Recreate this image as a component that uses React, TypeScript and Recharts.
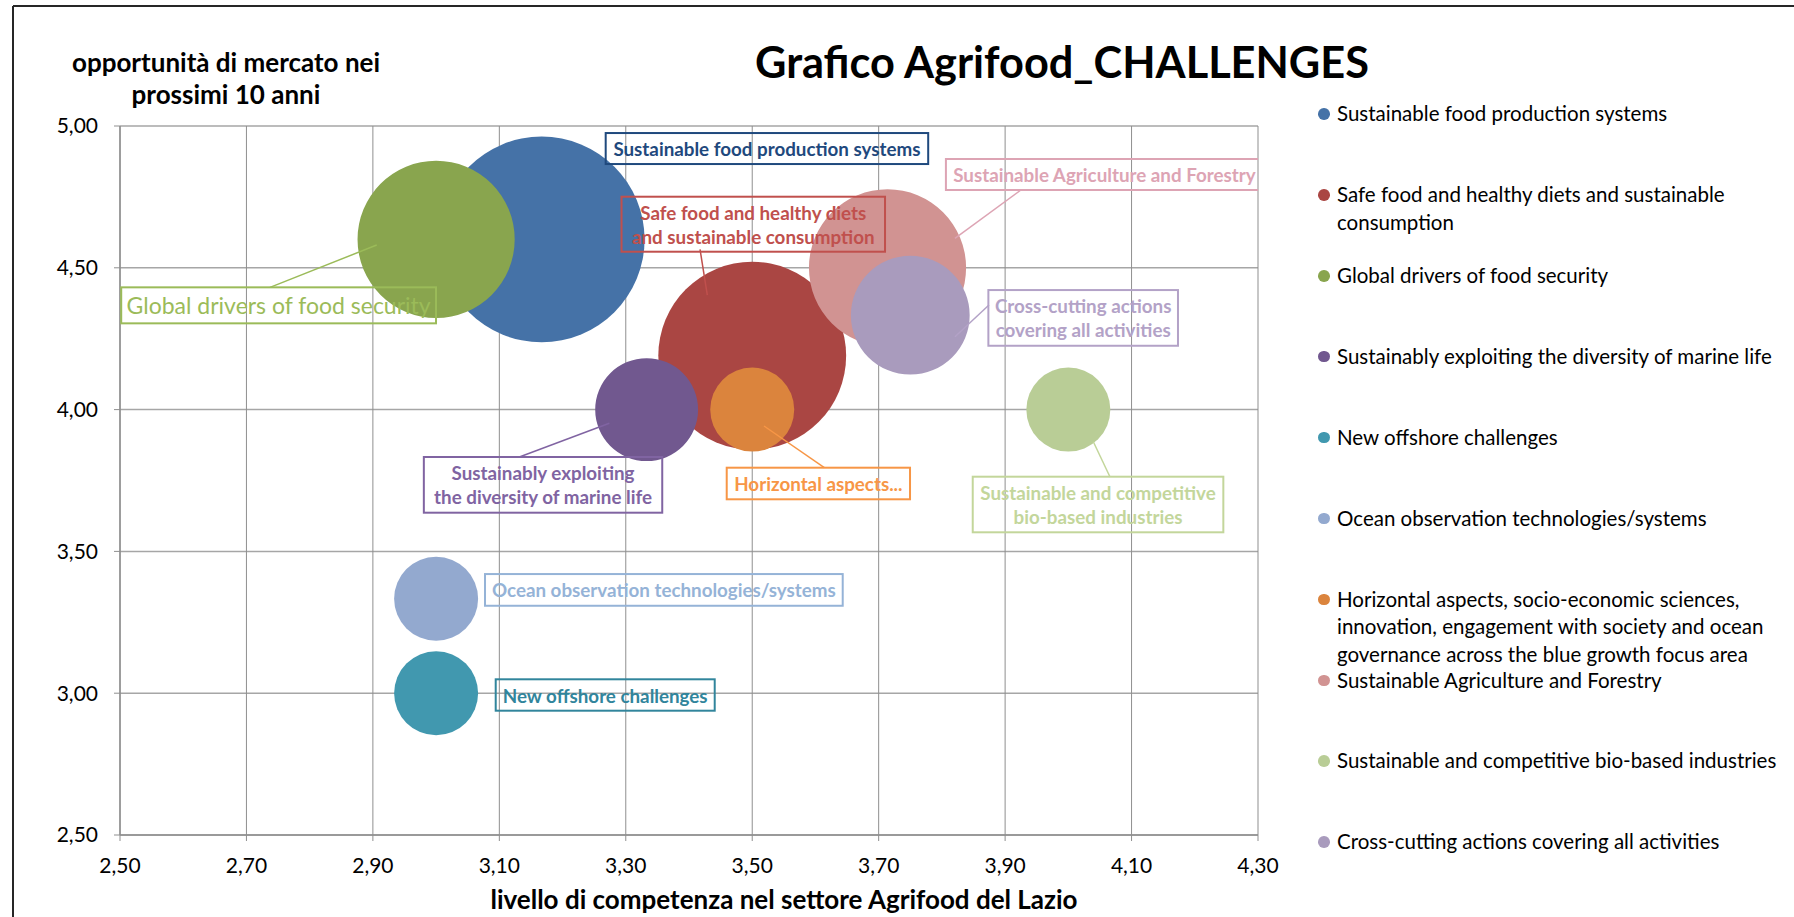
import React from 'react';
import { ScatterChart, Scatter, XAxis, YAxis, ZAxis, CartesianGrid, Legend } from 'recharts';

// ---------------- DATA ----------------
const seriesNames = [
  'Sustainable food production systems',
  'Safe food and healthy diets and sustainable consumption',
  'Global drivers of food security',
  'Sustainably exploiting the diversity of marine life',
  'New offshore challenges',
  'Ocean observation technologies/systems',
  'Horizontal aspects, socio-economic sciences, innovation, engagement with society and ocean governance across the blue growth focus area',
  'Sustainable Agriculture and Forestry',
  'Sustainable and competitive bio-based industries',
  'Cross-cutting actions covering all activities',
];
// livello di competenza (x)
const competenceValues = [3.167, 3.5, 3.0, 3.333, 3.0, 3.0, 3.5, 3.714, 4.0, 3.75];
// opportunità di mercato (y)
const opportunityValues = [4.6, 4.19, 4.6, 4.0, 3.0, 3.333, 4.0, 4.5, 4.0, 4.333];
// bubble size
const bubbleSizes = [12, 10, 7, 3, 2, 2, 2, 7, 2, 4];
const dataLabelLines = [
  ['Sustainable food production systems'],
  ['Safe food and healthy diets', 'and sustainable consumption'],
  ['Global drivers of food security'],
  ['Sustainably exploiting', 'the diversity of marine life'],
  ['New offshore challenges'],
  ['Ocean observation technologies/systems'],
  ['Horizontal aspects...'],
  ['Sustainable Agriculture and Forestry'],
  ['Sustainable and competitive', 'bio-based industries'],
  ['Cross-cutting actions', 'covering all activities'],
];
const xTicks = [2.5, 2.7, 2.9, 3.1, 3.3, 3.5, 3.7, 3.9, 4.1, 4.3];
const yTicks = [2.5, 3.0, 3.5, 4.0, 4.5, 5.0];
const chartTitle = 'Grafico Agrifood_CHALLENGES';
const yTitleLines = ['opportunità di mercato nei', 'prossimi 10 anni'];
const xTitle = 'livello di competenza nel settore Agrifood del Lazio';

// ---------------- STYLE ----------------
const W = 1794;
const H = 917;
const FONT = 'Lato, Carlito, Calibri, "Noto Sans", sans-serif';
const bubbleColors = ['#4572A7', '#AA4643', '#89A54E', '#71588F', '#4198AF', '#93A9CF', '#DB843D', '#D19392', '#B9CD96', '#A99BBD'];
const labelColors = ['#1F497D', '#C0504D', '#9BBB59', '#8064A2', '#31859C', '#95B3D7', '#F79646', '#DDA4B4', '#C3D69B', '#B3A2C7'];
// label box placement relative to the bubble centre
type Box = { dx: number; dy: number; w: number; h: number; leader?: number[]; big?: boolean };
const labelBoxes: Box[] = [
  { dx: 64, dy: -106.4, w: 322.5, h: 31 },
  { dx: -130.7, dy: -159, w: 263.5, h: 55, leader: [-52.2, -106.4, -44.9, -60.7] },
  { dx: -314.9, dy: 47.9, w: 314.8, h: 36, leader: [-166.1, 47.9, -59.4, 5.6], big: true },
  { dx: -222.8, dy: 47.4, w: 238.4, h: 55.7, leader: [-127.3, 47.4, -37.3, 13.7] },
  { dx: 59.6, dy: -13.9, w: 219, h: 31.4 },
  { dx: 48.9, dy: -24.7, w: 357.7, h: 31.7 },
  { dx: -25.5, dy: 58.1, w: 183.3, h: 31.6, leader: [11.8, 16.4, 72.1, 58.1] },
  { dx: 58.4, dy: -108.8, w: 317, h: 31, leader: [133.4, -77.8, 67.4, -29.5] },
  { dx: -95.6, dy: 67.1, w: 250.6, h: 55.6, leader: [41.7, 67.4, 25, 32.1] },
  { dx: 78.1, dy: -25.1, w: 189.6, h: 55.7, leader: [78.7, -10.1, 44.7, 21.6] },
];
const UNIT_AREA = Math.PI * 882; // area per unit of bubble size
const Z_MAX = 12;

const seriesData = seriesNames.map((name, i) => [
  { x: competenceValues[i], y: opportunityValues[i], z: bubbleSizes[i], name },
]);

const fmt = (v: number) => v.toFixed(2).replace('.', ',');

const makeLabelShape = (i: number) => (props: any) => {
  const { cx, cy } = props;
  if (cx == null || cy == null) return <g />;
  const b = labelBoxes[i];
  const color = labelColors[i];
  const lines = dataLabelLines[i];
  const fs = b.big ? 23 : 18.8;
  const lh = 24;
  const bx = cx + b.dx;
  const by = cy + b.dy;
  const tx = bx + b.w / 2;
  const tyc = by + b.h / 2;
  return (
    <g>
      {b.leader && (
        <line x1={cx + b.leader[0]} y1={cy + b.leader[1]} x2={cx + b.leader[2]} y2={cy + b.leader[3]} stroke={color} strokeWidth={1.5} />
      )}
      <rect x={bx} y={by} width={b.w} height={b.h} fill="none" stroke={color} strokeWidth={2} />
      {lines.map((t, j) => (
        <text
          key={j}
          x={tx}
          y={tyc + (j - (lines.length - 1) / 2) * lh}
          textAnchor="middle"
          dominantBaseline="central"
          fill={color}
          fontFamily={FONT}
          fontWeight={b.big ? 400 : 700}
          fontSize={fs}
        >
          {t}
        </text>
      ))}
    </g>
  );
};

const LegendContent = (props: any) => {
  const payload = (props.payload || [])
    .filter((p: any) => p.type !== 'none' && seriesNames.indexOf(p.value) >= 0)
    .slice()
    .sort((a: any, b: any) => seriesNames.indexOf(a.value) - seriesNames.indexOf(b.value));
  return (
    <div style={{ position: 'absolute', left: 0, top: 0, width: W, height: H, pointerEvents: 'none' }}>
      {payload.map((p: any, i: number) => {
        const cyc = 114 + 80.9 * i;
        return (
          <div key={i}>
            <div
              style={{
                position: 'absolute',
                left: 1324 - 5.8,
                top: cyc - 5.8,
                width: 11.6,
                height: 11.6,
                borderRadius: '50%',
                background: p.color,
              }}
            />
            <div
              style={{
                position: 'absolute',
                left: 1337,
                top: cyc - 13.75,
                width: 452,
                fontFamily: FONT,
                fontSize: 20.5,
                lineHeight: '27.5px',
                color: '#000',
                textAlign: 'left',
              }}
            >
              {p.value}
            </div>
          </div>
        );
      })}
    </div>
  );
};

export default function App() {
  return (
    <div style={{ position: 'absolute', left: 0, top: 0, width: W, height: H, background: '#fff', overflow: 'hidden' }}>
      <ScatterChart width={W} height={H} margin={{ top: 126, right: 536, bottom: 52, left: 60 }}>
        <CartesianGrid horizontal={true} vertical={false} stroke="#A6A6A6" strokeWidth={1.5} />
        <CartesianGrid horizontal={false} vertical={true} stroke="#8F8F8F" strokeWidth={1} />
        <XAxis
          type="number"
          dataKey="x"
          domain={[2.5, 4.3]}
          ticks={xTicks}
          interval={0}
          tickFormatter={fmt}
          height={30}
          tickSize={6}
          tickMargin={17}
          axisLine={{ stroke: '#8F8F8F', strokeWidth: 1.5 }}
          tickLine={{ stroke: '#8F8F8F' }}
          tick={{ fill: '#000', fontFamily: FONT, fontSize: 21 }}
          allowDataOverflow
        />
        <YAxis
          type="number"
          dataKey="y"
          domain={[2.5, 5]}
          ticks={yTicks}
          interval={0}
          tickFormatter={fmt}
          width={60}
          tickSize={6}
          tickMargin={16}
          axisLine={{ stroke: '#8F8F8F', strokeWidth: 1.5 }}
          tickLine={{ stroke: '#8F8F8F' }}
          tick={{ fill: '#000', fontFamily: FONT, fontSize: 21 }}
          allowDataOverflow
        />
        <ZAxis type="number" dataKey="z" domain={[0, Z_MAX]} range={[0, UNIT_AREA * Z_MAX]} />
        <Legend
          layout="horizontal"
          align="center"
          verticalAlign="middle"
          wrapperStyle={{ left: 0, top: 0, width: W, height: H, pointerEvents: 'none' }}
          content={<LegendContent />}
        />
        {seriesData.map((d, i) => (
          <Scatter
            key={'s' + i}
            name={seriesNames[i]}
            data={d}
            fill={bubbleColors[i]}
            legendType="circle"
            isAnimationActive={false}
          />
        ))}
        {seriesData.map((d, i) => (
          <Scatter
            key={'l' + i}
            name={'label-' + i}
            data={d}
            fill="none"
            legendType="none"
            isAnimationActive={false}
            shape={makeLabelShape(i)}
          />
        ))}
      </ScatterChart>
      <svg width={W} height={H} style={{ position: 'absolute', left: 0, top: 0, pointerEvents: 'none' }}>
        <line x1={13} y1={6} x2={W} y2={6} stroke="#262626" strokeWidth={2} />
        <line x1={13} y1={6} x2={13} y2={H} stroke="#262626" strokeWidth={2} />
        <text x={1062} y={78} textAnchor="middle" fontFamily={FONT} fontWeight={700} fontSize={43.3} fill="#000">
          {chartTitle}
        </text>
        {yTitleLines.map((t, j) => (
          <text key={j} x={226} y={72 + j * 32} textAnchor="middle" fontFamily={FONT} fontWeight={700} fontSize={26} fill="#000">
            {t}
          </text>
        ))}
        <text x={784} y={909} textAnchor="middle" fontFamily={FONT} fontWeight={700} fontSize={26} fill="#000">
          {xTitle}
        </text>
      </svg>
    </div>
  );
}
